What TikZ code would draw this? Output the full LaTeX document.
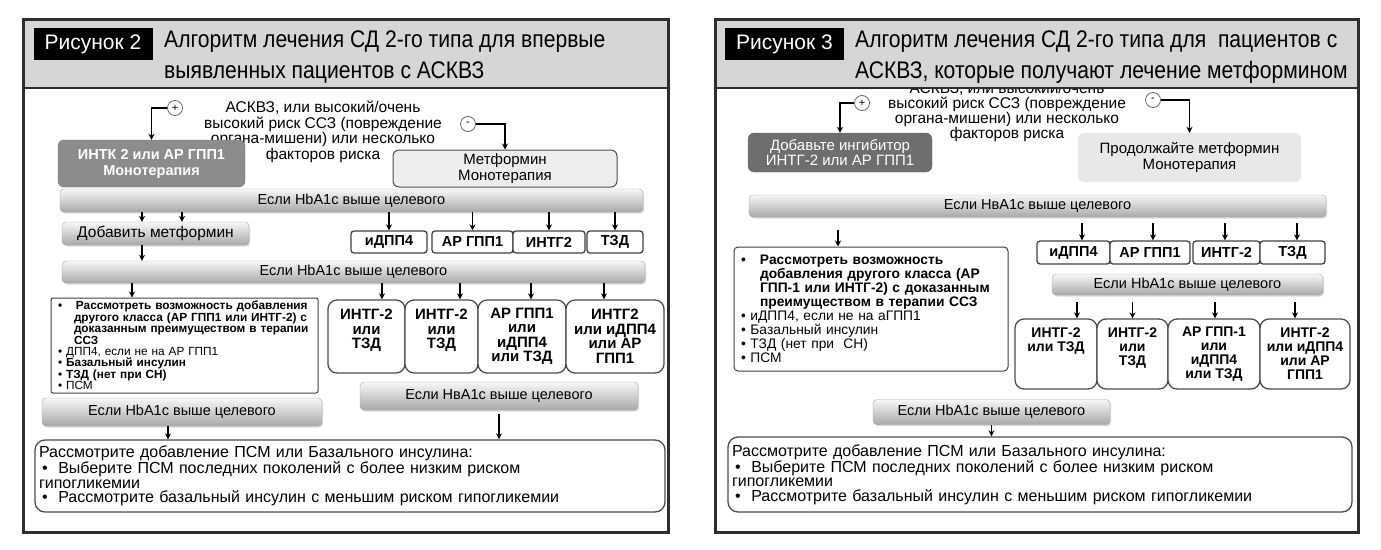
\documentclass[tikz,border=0pt]{standalone}
\usepackage{fontspec}
\setmainfont{Liberation Sans}
\newfontfamily\condfont{Liberation Sans}[FakeStretch=0.88]
\usetikzlibrary{arrows.meta,positioning,calc,shadows}

\tikzset{
  panel/.style={draw=black!82, line width=3pt},
  band/.style={fill=black!16},
  figlabel/.style={fill=black, text=white, minimum width=119, minimum height=32, inner sep=0pt, font=\fontsize{21}{24}\selectfont},
  heading/.style={anchor=west, align=left, inner sep=0pt, font=\condfont\fontsize{24}{31}\selectfont},
  risk/.style={align=center, inner sep=0pt, font=\fontsize{15.5}{15.5}\selectfont},
  sign/.style={circle, draw=black!60, fill=white, line width=0.8pt, minimum size=15, inner sep=0pt, font=\fontsize{11}{11}\selectfont},
  darkbox/.style={rounded corners=6pt, draw=black!55, text=white, align=center, inner sep=0pt},
  lightbox/.style={rounded corners=6pt, align=center, inner sep=0pt, font=\fontsize{15}{16}\selectfont},
  hbbar/.style={rounded corners=4pt, draw=black!35, top color=black!3, bottom color=black!34, inner sep=0pt, font=\fontsize{14.5}{16}\selectfont,
    drop shadow={opacity=0.3, shadow xshift=1.2pt, shadow yshift=-1.5pt}},
  opt/.style={rounded corners=3pt, draw=black!75, fill=white, line width=1.3pt, inner sep=0pt, font=\bfseries\fontsize{14.5}{16}\selectfont},
  combo/.style={rounded corners=9pt, draw=black!70, fill=white, line width=1.3pt, align=center, inner sep=0pt, font=\bfseries\fontsize{15}{14.5}\selectfont},
  note/.style={draw=black!75, fill=white, line width=1pt, rounded corners=2pt, align=left, inner sep=0pt},
  final/.style={rounded corners=10pt, draw=black!70, fill=white, line width=1.3pt, align=left, inner sep=0pt, font=\fontsize{16}{14.5}\selectfont},
  arr/.style={-{Stealth[length=6pt,width=6pt]}, line width=1.8pt},
}

\begin{document}
\begin{tikzpicture}[x=1pt,y=-1pt]
\useasboundingbox (0,0) rectangle (1381,549);

%% ---------- Рисунок 2 ----------
\node[risk] (risk2) at (323,132) {АСКВЗ, или высокий/очень\\высокий риск ССЗ (повреждение\\органа-мишени) или несколько\\факторов риска};
\node[sign] (plus2) at (175,108) {+};
\node[sign] (minus2) at (468,124) {-};
\node[darkbox, fill=black!45, minimum width=187, minimum height=47, font=\bfseries\fontsize{14.5}{16}\selectfont] (intk) at (151.5,163.5) {ИНТК 2 или АР ГПП1\\Монотерапия};
\node[lightbox, draw=black!70, line width=1pt, fill=black!7, minimum width=224, minimum height=37] (metf) at (505,168.5) {Метформин\\Монотерапия};
\draw[arr] (plus2.west) -| (intk.north);
\draw[arr] (minus2.east) -| (metf.north);

\node[hbbar, minimum width=583, minimum height=23] (bar21) at (351.5,200.5) {Если HbA1c выше целевого};
\node[hbbar, minimum width=187, minimum height=23, font=\fontsize{15.5}{16}\selectfont] (add) at (155.5,233.5) {Добавить метформин};
\draw[arr] ([xshift=-13.5pt]add.north |- bar21.south) -- ([xshift=-13.5pt]add.north);
\draw[arr] ([xshift=26.5pt]add.north |- bar21.south) -- ([xshift=26.5pt]add.north);
% options after first check
\foreach \n/\cx/\w/\txt in {1/389/76/иДПП4, 2/472.5/81/АР ГПП1, 3/549/72/ИНТГ2, 4/615/56/ТЗД} {
  \node[opt, minimum width=\w, minimum height=22] (o\n) at (\cx,242) {\txt};
  \draw[arr] (o\n.north |- bar21.south) -- (o\n.north);
}

\node[hbbar, minimum width=583, minimum height=22] (bar22) at (353.5,272) {Если HbA1c выше целевого};
\draw[arr] ([xshift=-13.5pt]add.south) -- ([xshift=-13.5pt]add.south |- bar22.north);

\node[note, minimum width=267, minimum height=95, text width=253, font=\fontsize{11.8}{11.4}\selectfont] (list2) at (184.5,345.5) {%
\textbf{\makebox[18pt][l]{•}Рассмотреть возможность добавления}\\
\textbf{\hspace*{16pt}другого класса (АР ГПП1 или ИНТГ-2) с}\\
\textbf{\hspace*{16pt}доказанным преимуществом в терапии}\\
\textbf{\hspace*{16pt}ССЗ}\\
•\ ДПП4, если не на АР ГПП1\\
•\ \textbf{Базальный инсулин}\\
•\ \textbf{ТЗД (нет при СН)}\\
•\ ПСМ};
\draw[arr] ([xshift=-52.5pt]list2.north |- bar22.south) -- ([xshift=-52.5pt]list2.north);

% combinations after second check
\foreach \n/\cx/\w/\dx/\txt in {1/366.5/77/15.5/ИНТГ-2\\или\\ТЗД\\~, 2/441.5/73/18.5/ИНТГ-2\\или\\ТЗД\\~, 3/522/88/9/АР ГПП1\\или\\иДПП4\\или ТЗД, 4/615/98/-11/ИНТГ2\\или иДПП4\\или АР\\ГПП1} {
  \node[combo, minimum width=\w, minimum height=73] (q\n) at (\cx,336.5) {\txt};
  \draw[arr] ([xshift=\dx pt]q\n.north |- bar22.south) -- ([xshift=\dx pt]q\n.north);
}

\node[hbbar, minimum width=280, minimum height=28] (bar23) at (182,412) {Если HbA1c выше целевого};
\node[hbbar, minimum width=278, minimum height=28] (bar24) at (499,396) {Если НвА1с выше целевого};
\node[final, minimum width=630, minimum height=72, text width=622] (final2) at (350,476) {%
Рассмотрите добавление ПСМ или Базального инсулина:\\
\hspace*{3pt}•\ \ Выберите ПСМ последних поколений с более низким риском\\
гипогликемии\\
\hspace*{3pt}•\ \ Рассмотрите базальный инсулин с меньшим риском гипогликемии};
\draw[arr] ([xshift=-14pt]bar23.south) -- ([xshift=-14pt]bar23.south |- final2.north);
\draw[arr, shorten <=4pt] (bar24.south) -- (bar24.south |- final2.north);

%% ---------- Рисунок 3 ----------
\node[risk, font=\fontsize{15.5}{15}\selectfont] (risk3) at (1007,112) {АСКВЗ, или высокий/очень\\высокий риск ССЗ (повреждение\\органа-мишени) или несколько\\факторов риска};
\node[sign] (plus3) at (862,103) {+};
\node[sign] (minus3) at (1153,100) {-};
\node[darkbox, fill=black!57, minimum width=184, minimum height=39, font=\fontsize{15}{15}\selectfont] (add3) at (840,152.5) {Добавьте ингибитор\\ИНТГ-2 или АР ГПП1};
\node[lightbox, fill=black!9, minimum width=223, minimum height=49] (cont3) at (1189.5,157.5) {Продолжайте метформин\\Монотерапия};
\draw[arr] (plus3.west) -| (add3.north);
\draw[arr] (minus3.east) -| (cont3.north);

\node[hbbar, minimum width=577, minimum height=22] (bar31) at (1037.5,206) {Если НвА1с выше целевого};
\node[note, minimum width=274, minimum height=124, text width=260, rounded corners=4pt, font=\fontsize{13.8}{14}\selectfont] (list3) at (871,309) {%
\textbf{\makebox[19pt][l]{•}Рассмотреть возможность}\\
\textbf{\hspace*{19pt}добавления другого класса (АР}\\
\textbf{\hspace*{19pt}ГПП-1 или ИНТГ-2) с доказанным}\\
\textbf{\hspace*{19pt}преимуществом в терапии ССЗ}\\
•\ иДПП4, если не на аГПП1\\
•\ Базальный инсулин\\
•\ ТЗД (нет при\ \ СН)\\
•\ ПСМ};
\draw[arr, shorten <=13pt] ([xshift=-33pt]list3.north |- bar31.south) -- ([xshift=-33pt]list3.north);

\foreach \n/\cx/\w/\dx/\txt in {1/1073.5/73/8.5/иДПП4, 2/1150/80/3/АР ГПП1, 3/1226.5/67/-1.5/ИНТГ-2, 4/1292.5/65/4.5/ТЗД} {
  \node[opt, minimum width=\w, minimum height=23] (r\n) at (\cx,252.5) {\txt};
  \draw[arr, shorten <=6pt] ([xshift=\dx pt]r\n.north |- bar31.south) -- ([xshift=\dx pt]r\n.north);
}

\node[hbbar, minimum width=271, minimum height=21] (bar32) at (1187.5,284.5) {Если HbA1c выше целевого};
\foreach \n/\cx/\w/\dx/\txt in {1/1056/82/21/ИНТГ-2\\или ТЗД\\~\\~, 2/1132.5/71/0/ИНТГ-2\\или\\ТЗД\\~, 3/1214/92/1/АР ГПП-1\\или\\иДПП4\\или ТЗД, 4/1305/90/-10/ИНТГ-2\\или иДПП4\\или АР\\ГПП1} {
  \node[combo, minimum width=\w, minimum height=70, font=\bfseries\fontsize{14}{14}\selectfont] (s\n) at (\cx,354) {\txt};
  \draw[arr, shorten <=7pt] ([xshift=\dx pt]s\n.north |- bar32.south) -- ([xshift=\dx pt]s\n.north);
}

\node[hbbar, minimum width=237, minimum height=25] (bar33) at (991.5,412) {Если HbA1c выше целевого};
\node[final, minimum width=624, minimum height=75, text width=616] (final3) at (1040,474.5) {%
Рассмотрите добавление ПСМ или Базального инсулина:\\
\hspace*{3pt}•\ \ Выберите ПСМ последних поколений с более низким риском\\
гипогликемии\\
\hspace*{3pt}•\ \ Рассмотрите базальный инсулин с меньшим риском гипогликемии};
\draw[arr] (bar33.south) -- (bar33.south |- final3.north);

%% ---------- headers and frames ----------
\fill[band] (23,19) rectangle (668,88);
\fill[band] (715,19) rectangle (1358,88);
\draw[black!82, line width=2.5pt] (23,88) -- (668,88);
\draw[black!82, line width=2.5pt] (715,88) -- (1358,88);
\draw[panel] (23,19) rectangle (668,532);
\draw[panel] (715,19) rectangle (1358,532);
\node[figlabel] (lbl2) at (93,44) {Рисунок 2};
\node[figlabel] (lbl3) at (784.5,44) {Рисунок 3};
\node[heading] (title2) at (164,57.5) {Алгоритм лечения СД 2-го типа для впервые\\выявленных пациентов с АСКВЗ};
\node[heading] (title3) at (855,57.5) {Алгоритм лечения СД 2-го типа для\ \ пациентов с\\АСКВЗ, которые получают лечение метформином};
\end{tikzpicture}
\end{document}
